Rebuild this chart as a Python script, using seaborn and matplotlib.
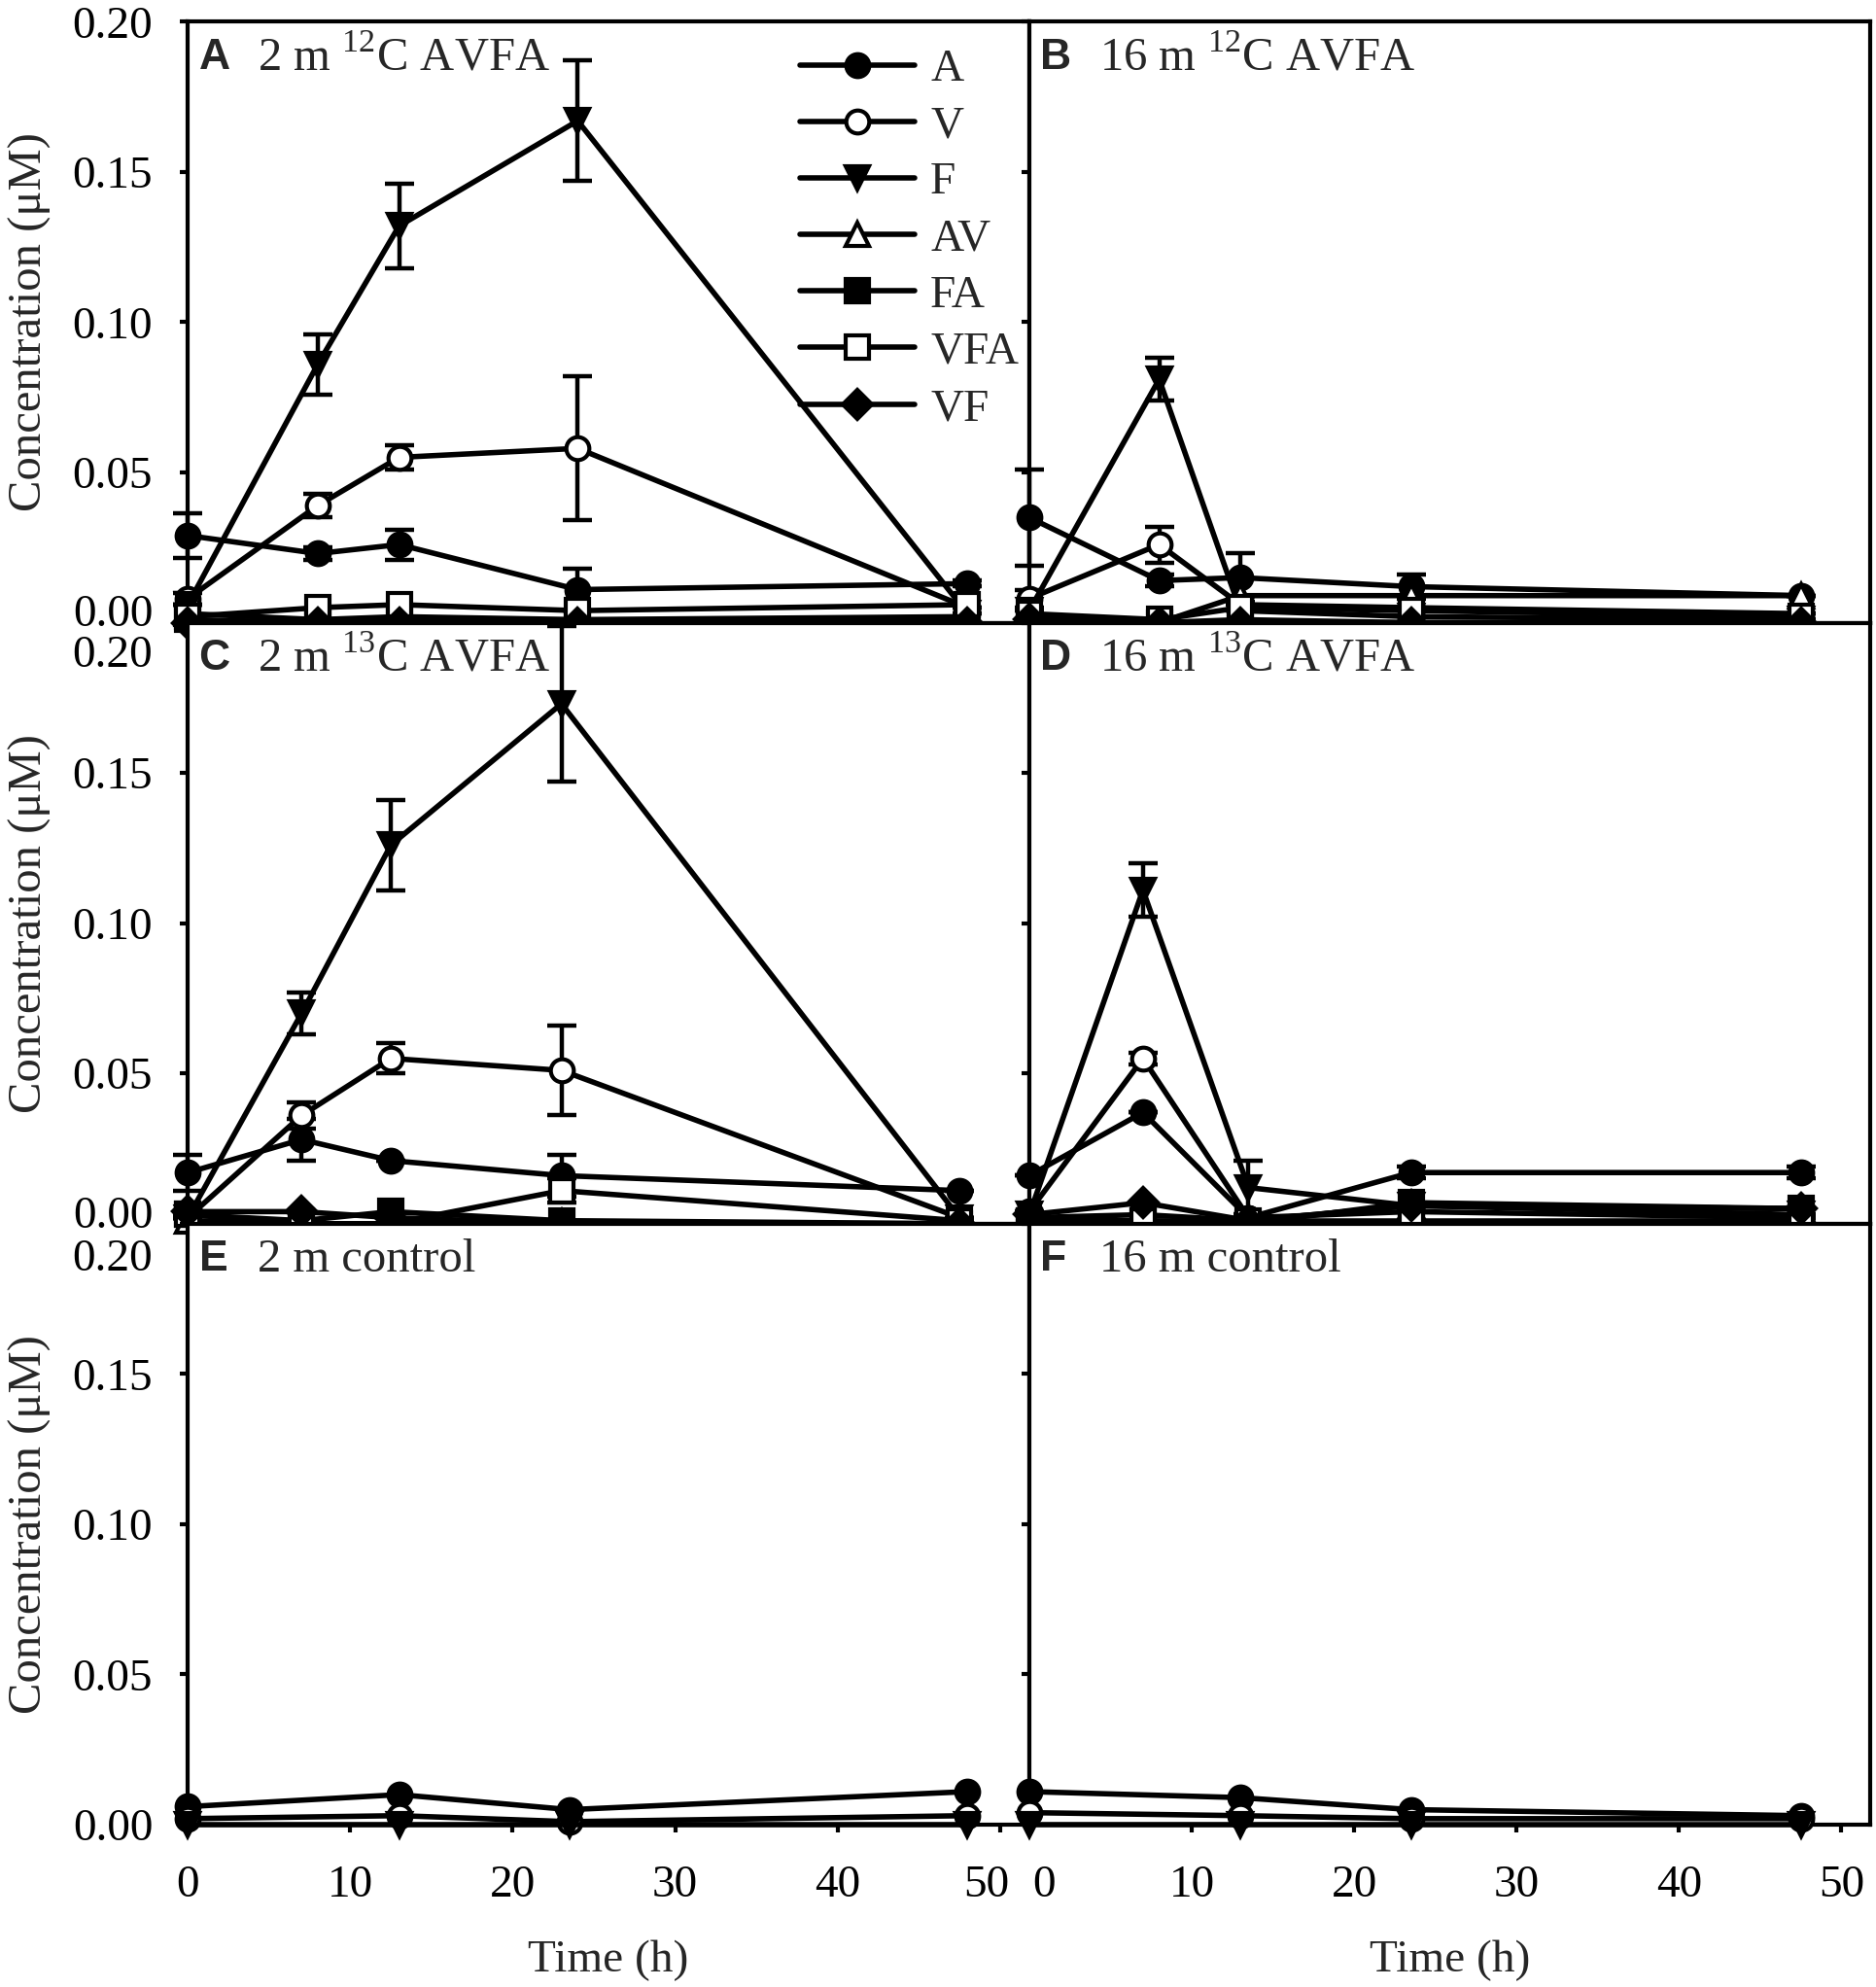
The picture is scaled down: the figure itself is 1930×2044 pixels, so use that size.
import pandas as pd
import seaborn as sns
import matplotlib.pyplot as plt
from matplotlib.transforms import ScaledTranslation

# series names, in legend order
series = ["A", "V", "F", "AV", "FA", "VFA", "VF"]

# Panel A: 2 m 12C AVFA
time_a = [0, 8, 13, 24, 48]
a_A = [0.029, 0.023, 0.026, 0.011, 0.013]
a_A_err = [0.0075, 0.002, 0.005, 0.007, 0.001]
a_V = [0.008, 0.039, 0.055, 0.058, 0.005]
a_V_err = [0.002, 0.004, 0.004, 0.024, 0.0]
a_F = [0.006, 0.086, 0.132, 0.167, 0.003]
a_F_err = [0.0, 0.010, 0.014, 0.020, 0.0]
a_AV = [0.003, 0.001, 0.002, 0.001, 0.002]
a_FA = [0.001, 0.000, 0.001, 0.000, 0.001]
a_VFA = [0.002, 0.005, 0.006, 0.004, 0.006]
a_VF = [0.000, 0.000, 0.000, 0.000, 0.000]

# Panel B: 16 m 12C AVFA
time_b = [0, 8, 13, 23.5, 47.5]
b_A = [0.035, 0.014, 0.015, 0.012, 0.009]
b_A_err = [0.016, 0.002, 0.008, 0.004, 0.0]
b_V = [0.008, 0.026, 0.006, 0.005, 0.003]
b_V_err = [0.003, 0.006, 0.0, 0.0, 0.0]
b_F = [0.004, 0.081, 0.004, 0.002, 0.001]
b_F_err = [0.0, 0.007, 0.0, 0.0, 0.0]
b_AV = [0.002, 0.000, 0.009, 0.009, 0.009]
b_FA = [0.001, 0.000, 0.001, 0.000, 0.000]
b_VFA = [0.003, 0.001, 0.005, 0.004, 0.002]
b_VF = [0.001, 0.000, 0.000, 0.000, 0.000]

# Panel C: 2 m 13C AVFA
time_c = [0, 7, 12.5, 23, 47.5]
c_A = [0.017, 0.028, 0.021, 0.016, 0.011]
c_A_err = [0.006, 0.007, 0.0, 0.007, 0.0]
c_V = [0.002, 0.036, 0.055, 0.051, 0.002]
c_V_err = [0.0, 0.0045, 0.005, 0.015, 0.0]
c_F = [0.002, 0.070, 0.126, 0.173, 0.002]
c_F_err = [0.0, 0.007, 0.015, 0.026, 0.0]
c_AV = [0.001, 0.000, 0.000, 0.000, 0.000]
c_FA = [0.003, 0.001, 0.004, 0.001, 0.000]
c_VFA = [0.003, 0.000, 0.000, 0.011, 0.001]
c_VFA_err = [0.0, 0.0, 0.0, 0.004, 0.0]
c_VF = [0.004, 0.004, 0.002, 0.000, 0.000]

# Panel D: 16 m 13C AVFA
time_d = [0, 7, 13.5, 23.5, 47.5]
d_A = [0.016, 0.037, 0.002, 0.017, 0.017]
d_A_err = [0.0, 0.0, 0.0, 0.002, 0.002]
d_V = [0.004, 0.055, 0.002, 0.004, 0.002]
d_V_err = [0.0, 0.002, 0.0, 0.0, 0.0]
d_F = [0.003, 0.111, 0.012, 0.006, 0.003]
d_F_err = [0.0, 0.009, 0.009, 0.0, 0.0]
d_AV = [0.002, 0.003, 0.001, 0.006, 0.005]
d_FA = [0.001, 0.001, 0.000, 0.007, 0.005]
d_VFA = [0.001, 0.001, 0.001, 0.001, 0.001]
d_VF = [0.003, 0.007, 0.001, 0.006, 0.005]

# Panel E: 2 m control
time_e = [0, 13, 23.5, 48]
e_A = [0.006, 0.010, 0.005, 0.011]
e_V = [0.002, 0.003, 0.001, 0.003]
e_F = [0.0, 0.0, 0.0, 0.0]

# Panel F: 16 m control
time_f = [0, 13, 23.5, 47.5]
f_A = [0.011, 0.009, 0.005, 0.003]
f_V = [0.004, 0.003, 0.002, 0.002]
f_F = [0.0, 0.0, 0.0, 0.0]

y_ticks = [0.00, 0.05, 0.10, 0.15, 0.20]
x_ticks = [0, 10, 20, 30, 40, 50]

panels = [
    ("A", "2 m $^{12}$C AVFA", time_a,
     {"A": a_A, "V": a_V, "F": a_F, "AV": a_AV, "FA": a_FA, "VFA": a_VFA, "VF": a_VF},
     {"A": a_A_err, "V": a_V_err, "F": a_F_err}),
    ("B", "16 m $^{12}$C AVFA", time_b,
     {"A": b_A, "V": b_V, "F": b_F, "AV": b_AV, "FA": b_FA, "VFA": b_VFA, "VF": b_VF},
     {"A": b_A_err, "V": b_V_err, "F": b_F_err}),
    ("C", "2 m $^{13}$C AVFA", time_c,
     {"A": c_A, "V": c_V, "F": c_F, "AV": c_AV, "FA": c_FA, "VFA": c_VFA, "VF": c_VF},
     {"A": c_A_err, "V": c_V_err, "F": c_F_err, "VFA": c_VFA_err}),
    ("D", "16 m $^{13}$C AVFA", time_d,
     {"A": d_A, "V": d_V, "F": d_F, "AV": d_AV, "FA": d_FA, "VFA": d_VFA, "VF": d_VF},
     {"A": d_A_err, "V": d_V_err, "F": d_F_err}),
    ("E", "2 m control", time_e, {"A": e_A, "V": e_V, "F": e_F}, {}),
    ("F", "16 m control", time_f, {"A": f_A, "V": f_V, "F": f_F}, {}),
]

marker_style = {
    "A": ("o", "black"),
    "V": ("o", "white"),
    "F": ("v", "black"),
    "AV": ("^", "white"),
    "FA": ("s", "black"),
    "VFA": ("s", "white"),
    "VF": ("D", "black"),
}

sns.set_style("ticks")
plt.rcParams["font.family"] = ["Liberation Serif", "DejaVu Serif"]
plt.rcParams["mathtext.fontset"] = "custom"
plt.rcParams["mathtext.rm"] = "Liberation Serif"
plt.rcParams["axes.linewidth"] = 3
FS = 34

fig, axes = plt.subplots(3, 2, figsize=(19.31, 20.44), dpi=100)
fig.subplots_adjust(left=0.1001, right=0.9966, top=0.9891, bottom=0.0817,
                    hspace=0, wspace=0)


def shift(label, dx, dy):
    label.set_transform(label.get_transform() +
                        ScaledTranslation(dx / 72, dy / 72, fig.dpi_scale_trans))


for i, (letter, title, t, vals, errs) in enumerate(panels):
    ax = axes.flat[i]
    row, col = divmod(i, 2)
    df = pd.DataFrame({"Time": t, **vals}).melt(id_vars="Time", var_name="Series",
                                                value_name="Conc")
    for name in series:
        if name not in vals:
            continue
        sub = df[df["Series"] == name]
        if name in errs:
            eb = ax.errorbar(t, vals[name], yerr=errs[name], fmt="none", ecolor="black",
                             elinewidth=3.2, capsize=11, capthick=3.2, zorder=2)
            for part in eb.get_children():
                part.set_clip_on(False)
        mk, face = marker_style[name]
        sns.lineplot(data=sub, x="Time", y="Conc", ax=ax, color="black", lw=4,
                     marker=mk, markersize=17 if mk != "D" else 15,
                     markerfacecolor=face, markeredgecolor="black", markeredgewidth=3,
                     label=name, clip_on=False, zorder=3, errorbar=None)
    if ax.get_legend() is not None:
        ax.get_legend().remove()

    ax.set_xlim(0, 51.8)
    ax.set_ylim(0, 0.20)
    ax.set_xticks(x_ticks)
    ax.set_yticks(y_ticks)
    ax.set_yticklabels([f"{v:.2f}" for v in y_ticks])
    ax.tick_params(axis="both", direction="out", length=6, width=3,
                   labelsize=FS, colors="black")
    ax.tick_params(axis="x", pad=24)
    ax.tick_params(axis="y", pad=20)
    ax.tick_params(labelbottom=(row == 2), labelleft=(col == 0))
    for s in ax.spines.values():
        s.set_linewidth(3)
        s.set_color("black")

    ax.text(0.013, 0.94, letter, transform=ax.transAxes, fontsize=32,
            fontweight="bold", family="Liberation Sans", va="center", ha="left")
    ax.text(0.083, 0.94, title, transform=ax.transAxes, fontsize=35,
            va="center", ha="left")

    if col == 0:
        ax.set_ylabel("Concentration (\u03bcM)", fontsize=35)
        ax.yaxis.set_label_coords(-0.162, 0.5)
        labels = ax.get_yticklabels()
        if row < 2:
            shift(labels[0], 0, 9)
        if row == 1:
            shift(labels[-1], 0, -21)
        if row == 2:
            shift(labels[-1], 0, -23)
    else:
        ax.set_ylabel("")
    if row == 2:
        ax.set_xlabel("Time (h)", fontsize=FS)
        ax.xaxis.set_label_coords(0.5, -0.191)
        xl = ax.get_xticklabels()
        if col == 0:
            shift(xl[-1], -10, 0)
        else:
            shift(xl[0], 11, 0)
    else:
        ax.set_xlabel("")

# legend in panel A
axA = axes[0, 0]
axA.legend(loc="upper left", bbox_to_anchor=(0.727, 0.955), frameon=False,
           fontsize=FS, handlelength=2.5, handletextpad=0.35, labelspacing=0.32,
           borderpad=0, borderaxespad=0)

plt.savefig("out.png", dpi=100)
plt.close()
